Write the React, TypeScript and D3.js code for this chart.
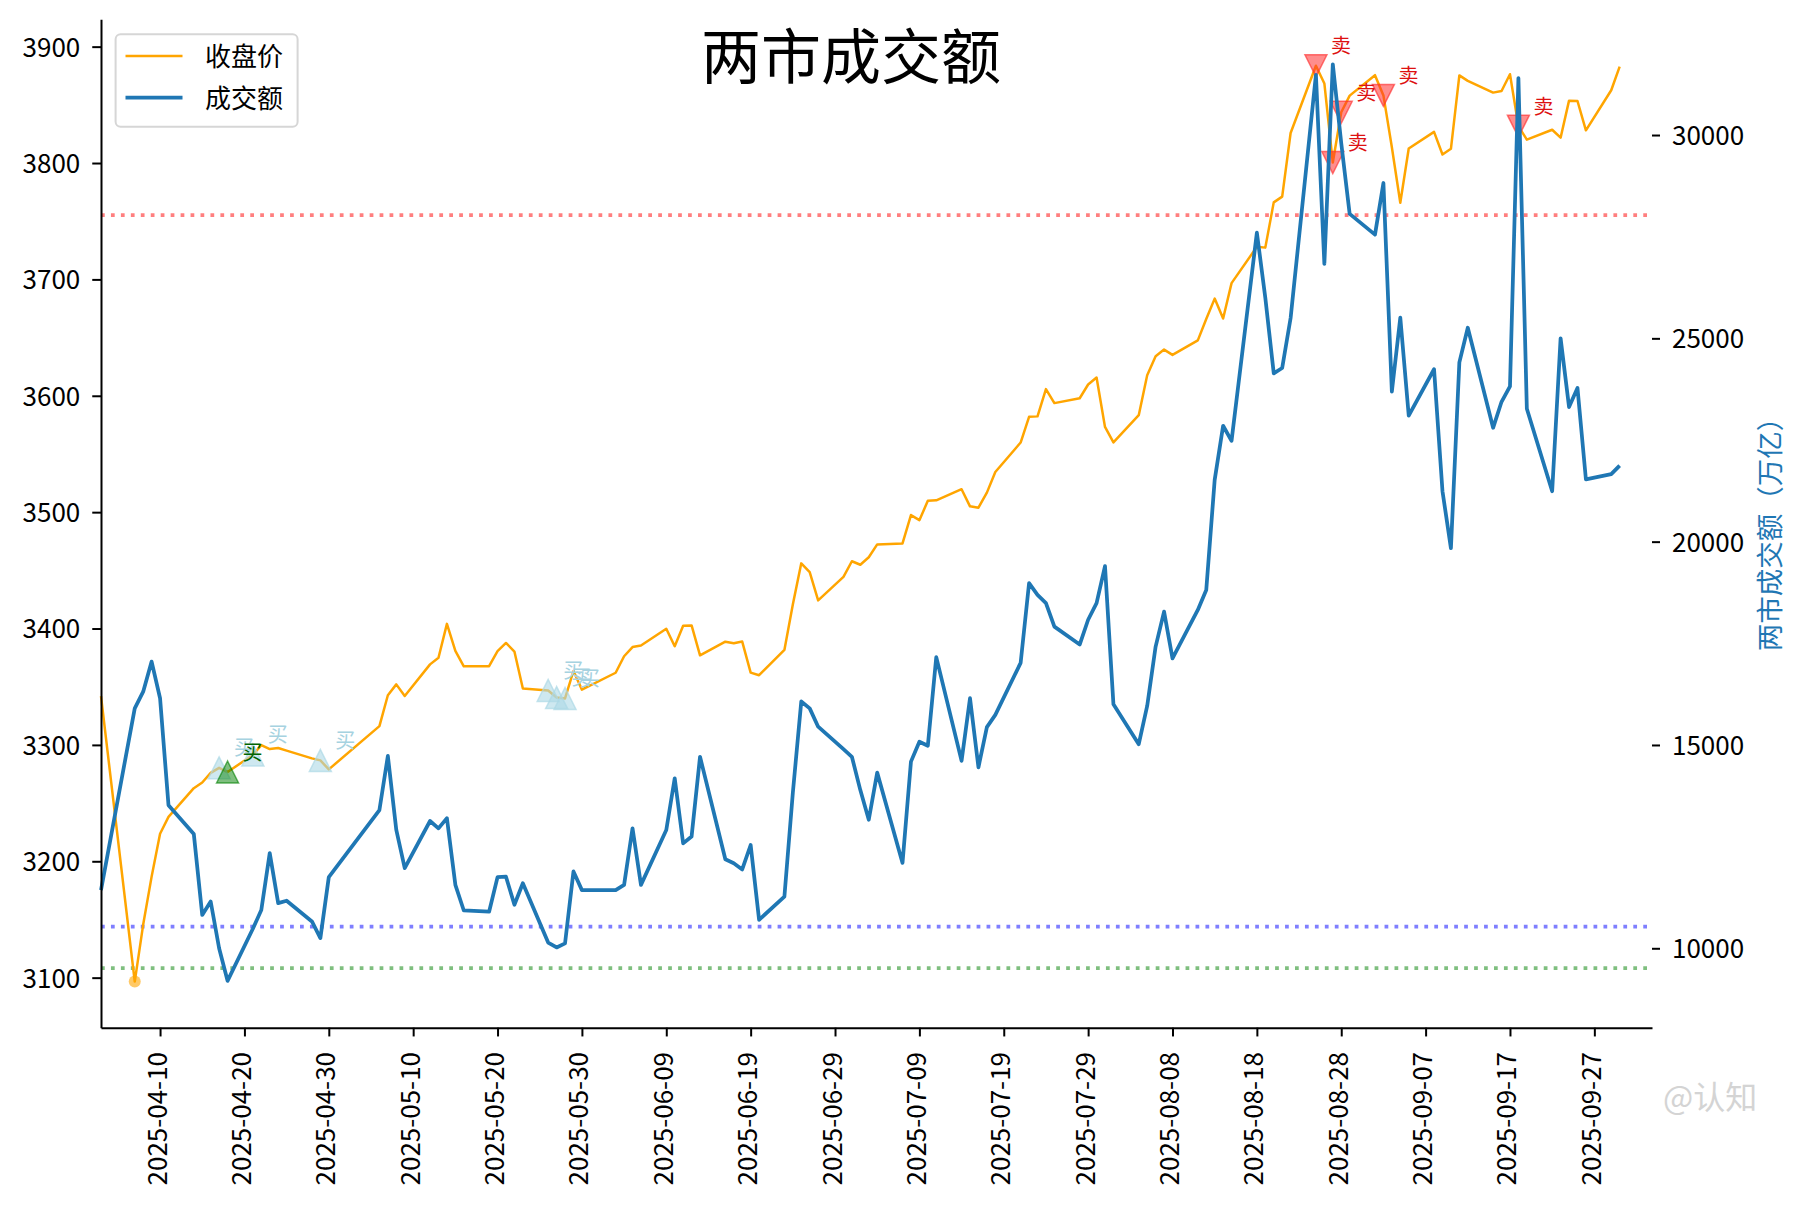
import React, { useEffect, useRef } from "react";
import * as d3 from "d3";

// trading days shown on the chart
const dates = [
  "2025-04-03", "2025-04-07", "2025-04-08", "2025-04-09", "2025-04-10", "2025-04-11",
  "2025-04-14", "2025-04-15", "2025-04-16", "2025-04-17", "2025-04-18",
  "2025-04-21", "2025-04-22", "2025-04-23", "2025-04-24", "2025-04-25",
  "2025-04-28", "2025-04-29", "2025-04-30",
  "2025-05-06", "2025-05-07", "2025-05-08", "2025-05-09",
  "2025-05-12", "2025-05-13", "2025-05-14", "2025-05-15", "2025-05-16",
  "2025-05-19", "2025-05-20", "2025-05-21", "2025-05-22", "2025-05-23",
  "2025-05-26", "2025-05-27", "2025-05-28", "2025-05-29", "2025-05-30",
  "2025-06-03", "2025-06-04", "2025-06-05", "2025-06-06",
  "2025-06-09", "2025-06-10", "2025-06-11", "2025-06-12", "2025-06-13",
  "2025-06-16", "2025-06-17", "2025-06-18", "2025-06-19", "2025-06-20",
  "2025-06-23", "2025-06-24", "2025-06-25", "2025-06-26", "2025-06-27", "2025-06-30",
  "2025-07-01", "2025-07-02", "2025-07-03", "2025-07-04",
  "2025-07-07", "2025-07-08", "2025-07-09", "2025-07-10", "2025-07-11",
  "2025-07-14", "2025-07-15", "2025-07-16", "2025-07-17", "2025-07-18",
  "2025-07-21", "2025-07-22", "2025-07-23", "2025-07-24", "2025-07-25",
  "2025-07-28", "2025-07-29", "2025-07-30", "2025-07-31",
  "2025-08-01", "2025-08-04", "2025-08-05", "2025-08-06", "2025-08-07", "2025-08-08",
  "2025-08-11", "2025-08-12", "2025-08-13", "2025-08-14", "2025-08-15",
  "2025-08-18", "2025-08-19", "2025-08-20", "2025-08-21", "2025-08-22",
  "2025-08-25", "2025-08-26", "2025-08-27", "2025-08-28", "2025-08-29",
  "2025-09-01", "2025-09-02", "2025-09-03", "2025-09-04", "2025-09-05",
  "2025-09-08", "2025-09-09", "2025-09-10", "2025-09-11", "2025-09-12",
  "2025-09-15", "2025-09-16", "2025-09-17", "2025-09-18", "2025-09-19",
  "2025-09-22", "2025-09-23", "2025-09-24", "2025-09-25", "2025-09-26",
  "2025-09-29", "2025-09-30",
];

// 收盘价
const closePrice = [
  3342.0, 3096.6, 3145.6, 3186.8, 3223.6, 3238.2, 3262.8, 3267.7, 3276.0, 3280.3, 3276.7,
  3291.4, 3299.8, 3296.4, 3297.3, 3295.1, 3288.4, 3286.7, 3279.0,
  3316.1, 3342.7, 3352.0, 3342.0, 3369.2, 3374.9, 3404.0, 3380.8, 3367.5,
  3367.6, 3380.5, 3387.6, 3380.2, 3348.4, 3346.8, 3340.7, 3339.9, 3363.5, 3347.5,
  3362.0, 3376.2, 3384.1, 3385.4, 3399.8, 3384.8, 3402.3, 3402.7, 3377.0,
  3388.7, 3387.4, 3388.8, 3362.1, 3359.9, 3381.6, 3420.6, 3456.0, 3448.5, 3424.2, 3444.4,
  3457.8, 3454.8, 3461.2, 3472.3, 3473.1, 3497.5, 3493.1, 3509.7, 3510.2,
  3519.7, 3505.0, 3503.8, 3516.8, 3534.5, 3559.8, 3581.9, 3582.3, 3605.7, 3593.7,
  3597.9, 3609.7, 3615.7, 3573.2,
  3560.0, 3583.3, 3617.6, 3634.0, 3639.7, 3635.1, 3647.6, 3665.9, 3683.5, 3666.4, 3696.8,
  3728.0, 3727.3, 3766.2, 3771.1, 3825.8, 3883.6, 3868.4, 3800.4, 3843.6, 3857.9,
  3875.5, 3858.1, 3813.6, 3765.9, 3812.5, 3826.8, 3807.3, 3812.2, 3875.3, 3870.6,
  3860.5, 3861.9, 3876.3, 3831.7, 3820.1, 3828.6, 3821.8, 3853.6, 3853.3, 3828.1,
  3862.5, 3882.8,
];

// 成交额 (亿)
const turnover = [
  11430, 15900, 16310, 17050, 16150, 13520, 12810, 10820, 11150, 10000, 9200,
  10480, 10940, 12340, 11110, 11170, 10660, 10250, 11750,
  13400, 14730, 12910, 11970, 13130, 12950, 13200, 11560, 10930,
  10900, 11750, 11760, 11070, 11600, 10140, 10020, 10120, 11890, 11430,
  11430, 11560, 12950, 11560, 12910, 14180, 12580, 12750, 14710,
  12190, 12090, 11940, 12540, 10700, 11270, 13820, 16070, 15900, 15450, 14900,
  14710, 13890, 13160, 14320, 12100, 14590, 15080, 14980, 17160,
  14610, 16150, 14450, 15440, 15740, 17020, 18980, 18690, 18490, 17910,
  17470, 18080, 18490, 19400,
  16000, 15020, 15960, 17420, 18280, 17130, 18320, 18810, 21520, 22850, 22480,
  27600, 26000, 24140, 24270, 25500, 31480, 26830, 31740, 29800, 28060,
  27550, 28820, 23690, 25510, 23100, 24240, 21240, 19840, 24410, 25260,
  22800, 23440, 23820, 31400, 23270, 21240, 25000, 23310, 23780, 21530,
  21660, 21870,
];

const buyHints = ["2025-04-17", "2025-04-21", "2025-04-29", "2025-05-26", "2025-05-27", "2025-05-28"];
const buySignals = ["2025-04-18"];
const sellSignals = ["2025-08-25", "2025-08-27", "2025-08-28", "2025-09-02", "2025-09-18"];
const lowPoint = "2025-04-07";

// 成交额参考线
const refLevels = [28030, 10530, 9515];
const refColors = ["red", "blue", "green"];

const leftTicks = [3100, 3200, 3300, 3400, 3500, 3600, 3700, 3800, 3900];
const rightTicks = [10000, 15000, 20000, 25000, 30000];

const FONT = "'Noto Sans CJK SC', 'Noto Sans', sans-serif";

export default function App() {
  const svgRef = useRef<SVGSVGElement | null>(null);

  const width = 1806;
  const height = 1208;
  const left = 101;
  const right = 1652;
  const top = 19.3;
  const bottom = 1027.7;

  useEffect(() => {
    const svg = d3.select(svgRef.current);
    if (!svgRef.current) return;
    svg.selectAll("*").remove();

    const parse = d3.timeParse("%Y-%m-%d");
    const fmt = d3.timeFormat("%Y-%m-%d");
    const data = dates.map((d, i) => ({
      date: parse(d) as Date,
      close: closePrice[i],
      amount: turnover[i],
    }));
    const byDate = new Map(data.map((d) => [fmt(d.date), d]));

    const x = d3
      .scaleTime()
      .domain([parse("2025-04-03") as Date, new Date(2025, 9, 3, 20)])
      .range([left, right]);
    const yLeft = d3.scaleLinear().domain([3057, 3923.5]).range([bottom, top]);
    const yRight = d3.scaleLinear().domain([8047, 32846]).range([bottom, top]);

    // reference lines
    svg.selectAll(".ref")
      .data(refLevels)
      .join("line")
      .attr("class", "ref")
      .attr("x1", left)
      .attr("x2", right)
      .attr("y1", (d) => yRight(d))
      .attr("y2", (d) => yRight(d))
      .attr("stroke", (d, i) => refColors[i])
      .attr("stroke-opacity", 0.5)
      .attr("stroke-width", 3.75)
      .attr("stroke-dasharray", "3.75 6.2");

    // close price line
    const closeLine = d3
      .line<(typeof data)[number]>()
      .x((d) => x(d.date))
      .y((d) => yLeft(d.close));
    svg.append("path")
      .datum(data)
      .attr("d", closeLine)
      .attr("fill", "none")
      .attr("stroke", "orange")
      .attr("stroke-width", 2.5)
      .attr("stroke-linejoin", "round");

    // lowest point
    const low = byDate.get(lowPoint)!;
    svg.append("circle")
      .attr("cx", x(low.date))
      .attr("cy", yLeft(low.close))
      .attr("r", 6)
      .attr("fill", "orange")
      .attr("fill-opacity", 0.6);

    const tri = (px: number, py: number, up: boolean, s = 11) =>
      up
        ? `M${px},${py - s}L${px - s},${py + s}L${px + s},${py + s}Z`
        : `M${px},${py + s}L${px - s},${py - s}L${px + s},${py - s}Z`;

    const drawSignals = (
      list: string[],
      up: boolean,
      fill: string,
      textColor: string,
      label: string,
      opacity: number
    ) => {
      const pts = list.map((d) => byDate.get(d)!);
      svg.append("g")
        .selectAll("path")
        .data(pts)
        .join("path")
        .attr("d", (d) => tri(x(d.date), yLeft(d.close), up))
        .attr("fill", fill)
        .attr("fill-opacity", opacity)
        .attr("stroke", fill)
        .attr("stroke-opacity", opacity + 0.1)
        .attr("stroke-width", 1.5);
      svg.append("g")
        .selectAll("text")
        .data(pts)
        .join("text")
        .attr("x", (d) => x(d.date) + 15)
        .attr("y", (d) => yLeft(d.close) - 12.5)
        .attr("font-family", FONT)
        .attr("font-size", 20)
        .attr("fill", textColor)
        .text(label);
    };

    drawSignals(buyHints, true, "#add8e6", "#a6d2e0", "买", 0.6);
    drawSignals(buySignals, true, "green", "darkgreen", "买", 0.5);
    drawSignals(sellSignals, false, "#ff3030", "#dd1111", "卖", 0.55);

    // turnover line (twin axis, drawn on top)
    const amountLine = d3
      .line<(typeof data)[number]>()
      .x((d) => x(d.date))
      .y((d) => yRight(d.amount));
    svg.append("path")
      .datum(data)
      .attr("d", amountLine)
      .attr("fill", "none")
      .attr("stroke", "#1f77b4")
      .attr("stroke-width", 3.75)
      .attr("stroke-linejoin", "round");

    // axes
    const gLeft = svg.append("g")
      .attr("transform", `translate(${left},0)`)
      .call(
        d3.axisLeft(yLeft)
          .tickValues(leftTicks)
          .tickSize(8.75)
          .tickSizeOuter(0)
          .tickPadding(12)
          .tickFormat(d3.format("d"))
      );
    gLeft.attr("font-family", FONT).attr("font-size", 26);
    gLeft.select(".domain").attr("stroke-width", 2);
    gLeft.selectAll(".tick line").attr("stroke-width", 2);
    gLeft.selectAll(".tick text").attr("dy", "0.36em").attr("fill", "#000");

    const xTicks = d3.timeDay.range(new Date(2025, 3, 10), x.domain()[1], 10);
    const gBottom = svg.append("g")
      .attr("transform", `translate(0,${bottom})`)
      .call(
        d3.axisBottom(x)
          .tickValues(xTicks)
          .tickSize(8.75)
          .tickSizeOuter(0)
          .tickFormat((d) => fmt(d as Date))
      );
    gBottom.attr("font-family", FONT).attr("font-size", 26);
    gBottom.select(".domain").attr("stroke-width", 2);
    gBottom.selectAll(".tick line").attr("stroke-width", 2);
    gBottom.selectAll(".tick text")
      .attr("transform", "rotate(-90)")
      .attr("text-anchor", "end")
      .attr("x", -24.3)
      .attr("y", 0)
      .attr("dy", 6)
      .attr("fill", "#000");

    const gRight = svg.append("g")
      .attr("transform", `translate(${right},0)`)
      .call(
        d3.axisRight(yRight)
          .tickValues(rightTicks)
          .tickSize(8)
          .tickPadding(12)
          .tickFormat(d3.format("d"))
      );
    gRight.attr("font-family", FONT).attr("font-size", 26);
    gRight.select(".domain").remove();
    gRight.selectAll(".tick line").attr("stroke-width", 2);
    gRight.selectAll(".tick text").attr("dy", "0.36em").attr("fill", "#000");

    // right axis label
    svg.append("text")
      .attr("transform", `translate(1770,${(top + bottom) / 2 + 4}) rotate(-90)`)
      .attr("text-anchor", "middle")
      .attr("dy", "0.38em")
      .attr("font-family", FONT)
      .attr("font-size", 27.5)
      .attr("fill", "#1f77b4")
      .text("两市成交额（万亿）");

    // title
    svg.append("text")
      .attr("x", 851)
      .attr("y", 78.5)
      .attr("text-anchor", "middle")
      .attr("font-family", FONT)
      .attr("font-size", 60)
      .attr("fill", "#000")
      .text("两市成交额");

    // legend
    const legend = svg.append("g");
    legend.append("rect")
      .attr("x", 115.6)
      .attr("y", 34.3)
      .attr("width", 182)
      .attr("height", 92.4)
      .attr("rx", 5)
      .attr("fill", "white")
      .attr("fill-opacity", 0.8)
      .attr("stroke", "#d6d6d6")
      .attr("stroke-width", 2);
    const entries = [
      { label: "收盘价", color: "orange", w: 2.5, y: 56 },
      { label: "成交额", color: "#1f77b4", w: 3.75, y: 97.7 },
    ];
    entries.forEach((e) => {
      legend.append("line")
        .attr("x1", 125.5)
        .attr("x2", 182.5)
        .attr("y1", e.y)
        .attr("y2", e.y)
        .attr("stroke", e.color)
        .attr("stroke-width", e.w);
      legend.append("text")
        .attr("x", 205)
        .attr("y", e.y)
        .attr("dy", "0.38em")
        .attr("font-family", FONT)
        .attr("font-size", 26)
        .attr("fill", "#000")
        .text(e.label);
    });

    // watermark
    svg.append("text")
      .attr("x", 1663)
      .attr("y", 1097)
      .attr("dy", "0.36em")
      .attr("font-family", FONT)
      .attr("font-size", 32)
      .attr("fill", "#d4d4d4")
      .text("@认知");
  }, []);

  return (
    <div style={{ position: "absolute", left: 0, top: 0, background: "white" }}>
      <svg ref={svgRef} width={width} height={height} style={{ display: "block" }}></svg>
    </div>
  );
}
